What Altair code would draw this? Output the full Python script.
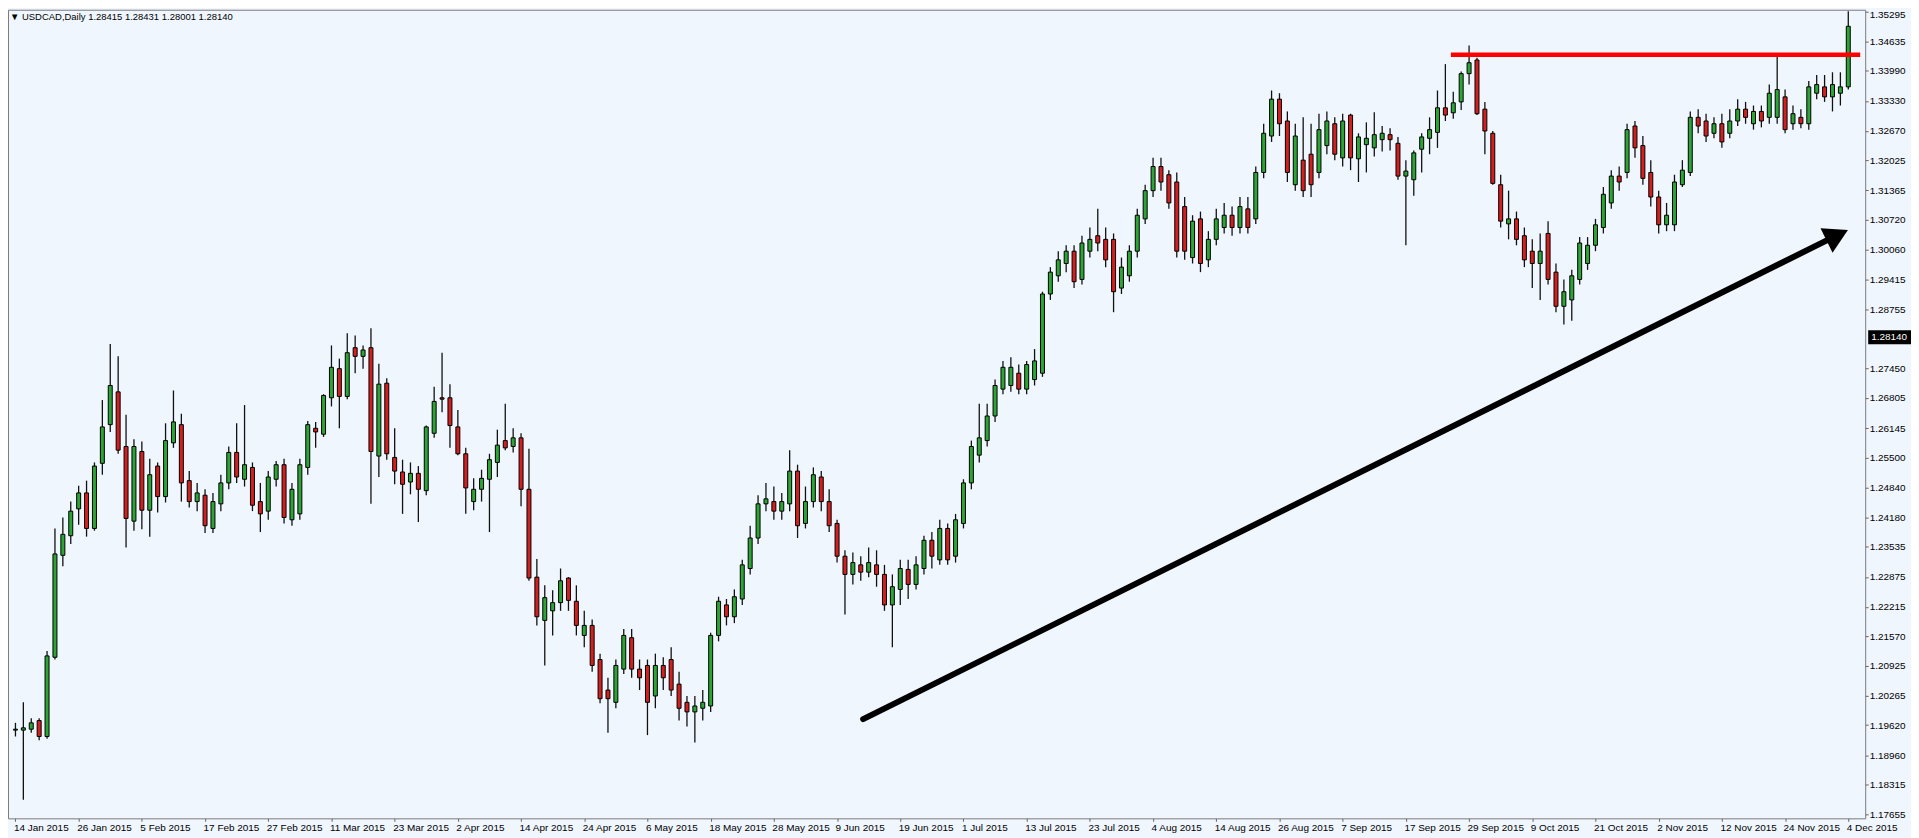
import json
import altair as alt
import pandas as pd

# USDCAD daily candles (prices x 10^4), 14 Jan 2015 .. 4 Dec 2015
open_pips = [11951,11951,11953,11972,11937,12111,12335,12378,12437,12472,12394,12537,12622,12694,12574,12410,12563,12434,12531,12464,
12582,12622,12499,12453,12467,12394,12448,12494,12561,12502,12528,12453,12432,12502,12534,12413,12426,12528,12614,12601,
12681,12745,12684,12791,12772,12791,12553,12713,12550,12518,12496,12515,12477,12603,12681,12681,12617,12558,12453,12480,
12502,12539,12587,12574,12593,12480,12287,12192,12213,12231,12285,12234,12159,12181,12106,12039,12012,12085,12154,12085,
12093,12026,12093,12106,12052,12012,11991,11999,12004,12159,12226,12200,12239,12306,12373,12448,12453,12432,12448,12520,
12405,12453,12507,12453,12405,12333,12293,12314,12298,12314,12293,12226,12260,12304,12271,12306,12368,12325,12394,12333,
12405,12494,12555,12587,12641,12700,12708,12735,12700,12721,12735,12909,12949,12976,13003,12941,13003,13037,13029,13029,
12922,12949,13003,13074,13136,13189,13171,13155,13101,12989,13074,12984,13029,13055,13082,13055,13096,13074,13176,13256,
13337,13289,13149,13203,13216,13176,13235,13283,13208,13302,13206,13237,13230,13248,13259,13240,13168,13160,13227,13251,
13264,13318,13307,13331,13393,13423,13315,13262,13149,13063,13074,13037,13003,12976,13042,12957,12882,12896,12941,12976,
13016,13055,13109,13168,13176,13278,13235,13176,13122,13061,13061,13149,13176,13297,13289,13262,13283,13262,13289,13315,
13283,13310,13297,13297,13342,13283,13297,13283,13350,13364,13342,13350,13364]
high_pips = [11967,12012,11977,11977,12125,12394,12418,12453,12488,12499,12539,12676,12799,12772,12644,12590,12585,12547,12539,12625,
12697,12646,12520,12494,12480,12472,12512,12574,12625,12665,12539,12494,12520,12542,12547,12494,12547,12630,12628,12689,
12796,12767,12823,12818,12796,12834,12756,12724,12614,12545,12539,12531,12620,12705,12780,12711,12654,12571,12504,12523,
12558,12611,12668,12614,12603,12569,12327,12269,12258,12306,12287,12269,12213,12194,12119,12066,12106,12173,12173,12106,
12106,12119,12111,12133,12079,12026,12026,12039,12165,12244,12239,12260,12325,12400,12467,12494,12486,12472,12566,12534,
12486,12528,12520,12480,12413,12346,12341,12333,12352,12346,12314,12293,12325,12325,12333,12378,12386,12413,12405,12426,
12502,12587,12668,12668,12721,12762,12770,12754,12762,12788,12914,12968,13003,13016,13016,13037,13055,13096,13055,13042,
12989,13016,13096,13149,13208,13208,13181,13176,13122,13082,13090,13047,13096,13109,13101,13122,13122,13189,13283,13356,
13350,13310,13283,13297,13283,13305,13310,13297,13305,13305,13262,13286,13308,13278,13273,13254,13203,13224,13262,13297,
13356,13414,13353,13398,13455,13428,13331,13267,13171,13136,13090,13055,13029,13042,13069,12976,12941,12962,13034,13034,
13074,13144,13181,13189,13283,13289,13256,13203,13136,13109,13171,13203,13310,13315,13305,13297,13305,13315,13337,13331,
13323,13323,13369,13433,13358,13323,13315,13377,13390,13390,13396,13396,13530]
low_pips = [11937,11798,11945,11929,11932,12106,12311,12360,12402,12376,12389,12512,12606,12558,12352,12389,12392,12376,12429,12451,
12571,12453,12440,12432,12384,12384,12432,12480,12494,12486,12432,12386,12413,12486,12405,12400,12413,12512,12571,12595,
12662,12614,12678,12735,12745,12448,12507,12545,12491,12426,12469,12408,12467,12593,12649,12571,12555,12426,12434,12453,
12386,12507,12566,12561,12443,12279,12181,12093,12159,12213,12213,12159,12133,12079,12010,11945,11999,12074,12066,12039,
11940,11999,12039,12026,11972,11959,11924,11972,11991,12146,12181,12186,12226,12293,12360,12432,12413,12413,12432,12373,
12394,12440,12432,12386,12319,12205,12271,12279,12287,12266,12213,12133,12226,12239,12260,12293,12306,12314,12314,12319,
12394,12480,12539,12574,12628,12689,12694,12689,12689,12708,12727,12896,12936,12957,12922,12930,12989,13003,12968,12869,
12909,12936,12989,13063,13122,13136,13096,12989,12984,12976,12957,12968,13016,13042,13037,13042,13042,13063,13163,13243,
13256,13155,13136,13122,13122,13163,13216,13203,13189,13181,13155,13176,13211,13222,13224,13160,13016,13125,13176,13216,
13230,13289,13294,13313,13369,13302,13216,13149,13055,13029,13016,12968,12922,12896,12930,12869,12842,12850,12930,12962,
13003,13042,13096,13136,13163,13208,13149,13101,13042,13047,13047,13144,13168,13262,13243,13251,13230,13251,13278,13283,
13270,13275,13283,13283,13262,13270,13273,13270,13337,13331,13310,13323,13358]
close_pips = [11953,11956,11967,11937,12114,12338,12381,12432,12472,12394,12531,12617,12708,12566,12416,12574,12434,12512,12464,12587,
12628,12494,12453,12472,12400,12453,12494,12561,12507,12534,12445,12426,12507,12534,12418,12480,12534,12622,12606,12686,
12748,12684,12780,12772,12786,12563,12711,12558,12520,12491,12515,12480,12617,12673,12678,12620,12558,12483,12480,12504,
12545,12577,12571,12593,12480,12285,12200,12242,12231,12279,12236,12181,12181,12093,12020,12020,12093,12159,12085,12066,
12012,12093,12066,12039,11999,11991,12004,12012,12159,12234,12200,12244,12314,12373,12448,12459,12432,12453,12520,12400,
12453,12512,12453,12400,12333,12293,12319,12298,12319,12293,12226,12266,12306,12271,12314,12368,12333,12394,12325,12413,
12494,12574,12593,12641,12708,12748,12748,12700,12754,12762,12909,12957,12984,13003,12936,13021,13029,13021,12984,12914,
12968,13003,13082,13136,13189,13155,13109,13003,13003,13069,12976,13029,13074,13082,13055,13101,13055,13176,13262,13337,
13283,13176,13256,13136,13149,13270,13289,13216,13289,13208,13254,13251,13259,13262,13248,13168,13179,13219,13254,13270,
13318,13302,13329,13393,13417,13305,13267,13152,13069,13074,13029,12984,12976,13003,12941,12882,12914,12949,13021,13016,
13061,13128,13168,13155,13270,13230,13163,13122,13061,13082,13155,13181,13297,13278,13256,13283,13243,13289,13315,13297,
13310,13289,13350,13358,13270,13305,13283,13364,13369,13342,13369,13364,13497]

date_labels = ["14 Jan 2015", "26 Jan 2015", "5 Feb 2015", "17 Feb 2015", "27 Feb 2015", "11 Mar 2015",
               "23 Mar 2015", "2 Apr 2015", "14 Apr 2015", "24 Apr 2015", "6 May 2015", "18 May 2015",
               "28 May 2015", "9 Jun 2015", "19 Jun 2015", "1 Jul 2015", "13 Jul 2015", "23 Jul 2015",
               "4 Aug 2015", "14 Aug 2015", "26 Aug 2015", "7 Sep 2015", "17 Sep 2015", "29 Sep 2015",
               "9 Oct 2015", "21 Oct 2015", "2 Nov 2015", "12 Nov 2015", "24 Nov 2015", "4 Dec 2015"]
price_ticks = [1.35295, 1.34635, 1.33990, 1.33330, 1.32670, 1.32025, 1.31365, 1.30720, 1.30060, 1.29415,
               1.28755, 1.27450, 1.26805, 1.26145, 1.25500, 1.24840, 1.24180, 1.23535, 1.22875, 1.22215,
               1.21570, 1.20925, 1.20265, 1.19620, 1.18960, 1.18315, 1.17655]
current_price = 1.28140
header_text = "\u25bc USDCAD,Daily  1.28415 1.28431 1.28001 1.28140"

# annotations (bar index, price)
resistance_bars = [181.7, 233.51]
resistance_price = 1.34343
arrow_bars = [107.3, 229.6]
arrow_prices = [1.19750, 1.30295]
arrow_head_bar = 230.6
arrow_head_price = 1.30380

W, H = 1865, 812
X_DOM = [-0.313, 233.51]
Y_DOM = [1.17572, 1.35334]
GREEN = "#2ca534"
RED = "#d41f1f"
BG = "#f0f6fe"
FONT = "Liberation Sans"

n = len(open_pips)
df = pd.DataFrame({
    "i": list(range(n)),
    "o": [v / 1e4 for v in open_pips],
    "h": [v / 1e4 for v in high_pips],
    "l": [v / 1e4 for v in low_pips],
    "c": [v / 1e4 for v in close_pips],
})

label_expr = json.dumps(date_labels) + "[round(datum.value / 8)]"
x_axis = alt.Axis(values=list(range(0, n, 8)), labelExpr=label_expr, labelAlign="left",
                  labelFont=FONT, labelFontSize=10, labelColor="black", tickSize=3,
                  tickColor="#666666", labelPadding=1, labelOffset=-2, domain=False, grid=False,
                  labelOverlap=False, labelFlush=False, title=None)
y_axis = alt.Axis(orient="right", values=price_ticks, format=".5f", labelFont=FONT,
                  labelFontSize=10, labelColor="black", tickSize=3, tickColor="#666666",
                  labelPadding=1, domain=False, grid=False, labelOverlap=False,
                  labelFlush=False, title=None,
                  labelOffset={"condition": {"test": "datum.value > 1.35", "value": 3}, "value": 0})
xs = alt.Scale(domain=X_DOM, nice=False, zero=False)
ys = alt.Scale(domain=Y_DOM, nice=False, zero=False)


def X(f):
    return alt.X(f + ":Q", scale=xs, axis=x_axis)


def Y(f):
    return alt.Y(f + ":Q", scale=ys, axis=y_axis)


wicks = alt.Chart(df).mark_rule(color="#111111", strokeWidth=1.3).encode(
    x=X("i"), y=Y("l"), y2="h:Q")
bodies = alt.Chart(df).mark_bar(size=4, stroke="black", strokeWidth=1).encode(
    x=X("i"), y=Y("o"), y2="c:Q",
    fill=alt.condition("datum.c >= datum.o", alt.value(GREEN), alt.value(RED)))

res_df = pd.DataFrame({"x1": [resistance_bars[0]], "x2": [resistance_bars[1]], "p": [resistance_price]})
res_line = alt.Chart(res_df).mark_rule(color="#ff0000", strokeWidth=4.5).encode(
    x=X("x1"), x2="x2:Q", y=Y("p"))

arr_df = pd.DataFrame({"i": arrow_bars, "p": arrow_prices})
arrow_shaft = alt.Chart(arr_df).mark_line(color="black", strokeWidth=6, strokeCap="round").encode(
    x=X("i"), y=Y("p"))
head_df = pd.DataFrame({"i": [arrow_head_bar], "p": [arrow_head_price]})
arrow_head = alt.Chart(head_df).mark_point(
    shape="triangle-right", filled=True, size=760, angle=334, color="black", opacity=1).encode(
    x=X("i"), y=Y("p"))

cur_df = pd.DataFrame({"p": [current_price], "t": [f"{current_price:.5f}"]})
cur_box = alt.Chart(cur_df).mark_rect(color="black", yOffset=-7, y2Offset=7, clip=False).encode(
    x=alt.value(W + 3), x2=alt.value(W + 46), y=Y("p"), y2="p:Q")
cur_text = alt.Chart(cur_df).mark_text(color="white", align="left", baseline="middle",
                                        font=FONT, fontSize=10).encode(
    x=alt.value(W + 6), y=Y("p"), text="t:N")

hdr_df = pd.DataFrame({"t": [header_text]})
header = alt.Chart(hdr_df).mark_text(align="left", baseline="middle", font=FONT,
                                     fontSize=9.5, color="black").encode(
    x=alt.value(2), y=alt.value(7), text="t:N")

chart = alt.layer(wicks, bodies, res_line, arrow_shaft, arrow_head, cur_box, cur_text, header).properties(
    width=W, height=H,
    autosize=alt.AutoSizeParams(type="none"),
    padding={"left": 0, "top": 0, "right": 46, "bottom": 18},
    background=BG,
).configure_view(fill=BG, stroke="#7a7a7a", strokeWidth=1)

chart.save("out.html", embed_options={"renderer": "svg", "actions": False})
